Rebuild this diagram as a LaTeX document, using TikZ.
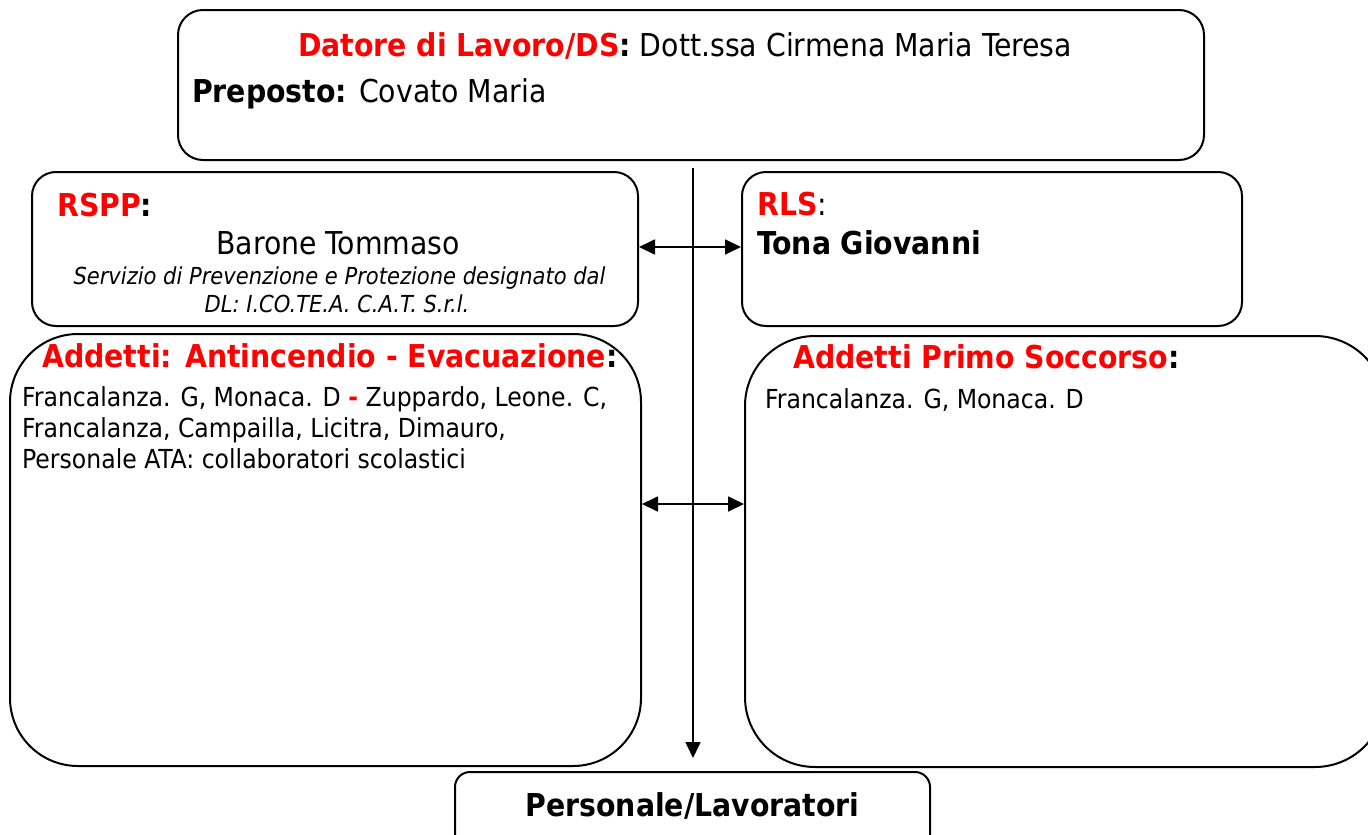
\documentclass[tikz,border=0pt]{standalone}
\usepackage{fontspec}
\setmainfont{DejaVu Sans Condensed}
\usetikzlibrary{arrows.meta}
\definecolor{hdred}{RGB}{255,0,0}
\begin{document}
\begin{tikzpicture}[x=1pt,y=-1pt,
  box/.style={draw, line width=2pt, rounded corners=#1, inner sep=0pt},
  txt/.style={anchor=base west, inner sep=0pt, font=\fontsize{31.5}{38}\selectfont},
  txtc/.style={anchor=base, inner sep=0pt, font=\fontsize{31.5}{38}\selectfont},
  smalltxt/.style={anchor=base west, inner sep=0pt, font=\fontsize{26.2}{31}\selectfont},
  ital/.style={anchor=base, inner sep=0pt, font=\fontsize{23.4}{28}\selectfont\itshape},
  conn/.style={line width=1.8pt, {Triangle[length=16pt,width=15pt]}-{Triangle[length=16pt,width=15pt]}},
  down/.style={line width=1.6pt, -{Triangle[length=16pt,width=15pt]}}]
\useasboundingbox (0,0) rectangle (1368,835);
\clip (0,0) rectangle (1368,835);
% boxes
\node[box=25pt, minimum width=1026pt, minimum height=150pt] (top) at (691,85) {};
\node[box=24pt, minimum width=606pt, minimum height=154pt] (rspp) at (335,249) {};
\node[box=24pt, minimum width=500pt, minimum height=154pt] (rls) at (992,249) {};
\node[box=68pt, minimum width=631pt, minimum height=432pt] (addA) at (325.5,550) {};
\node[box=70pt, minimum width=640pt, minimum height=431pt] (addB) at (1065,551.5) {};
\node[box=15pt, minimum width=475pt, minimum height=80pt] (pers) at (692.5,812) {};
% texts
\node[txt] (tdat) at (298,56) {\textcolor{hdred}{\bfseries Datore di Lavoro/DS}\textbf{:} Dott.ssa Cirmena Maria Teresa};
\node[txt] (tprep) at (192,102) {\textbf{Preposto:} Covato Maria};
\node[txt] (trspp) at (57,216) {\textcolor{hdred}{\bfseries RSPP}\textbf{:}};
\node[txtc] (tbar) at (338,254) {Barone Tommaso};
\node[ital] (tserv) at (339.5,284) {Servizio di Prevenzione e Protezione designato dal};
\node[ital] (tdl) at (337,312) {DL: I.CO.TE.A. C.A.T. S.r.l.};
\node[txt] (trls) at (757,215) {\textcolor{hdred}{\bfseries RLS}:};
\node[txt] (ttona) at (757,254) {\bfseries Tona Giovanni};
\node[txt] (taddA) at (42,367) {\textcolor{hdred}{\bfseries Addetti: Antincendio - Evacuazione}\textbf{:}};
\node[smalltxt] (tl1) at (22,406) {Francalanza. G, Monaca. D \textcolor{hdred}{\bfseries -} Zuppardo, Leone. C,};
\node[smalltxt] (tl2) at (22,437) {Francalanza, Campailla, Licitra, Dimauro,};
\node[smalltxt] (tl3) at (22,468) {Personale ATA: collaboratori scolastici};
\node[txt] (taddB) at (793,368) {\textcolor{hdred}{\bfseries Addetti Primo Soccorso}\textbf{:}};
\node[smalltxt] (tr1) at (765,408) {Francalanza. G, Monaca. D};
\node[txtc] (tpers) at (692.5,816) {\bfseries Personale/Lavoratori};
% connectors
\coordinate (vtop) at (693,168);
\coordinate (vbot) at (693,758);
\coordinate (a1) at (693,247);
\coordinate (a2) at (693,504);
\draw[down] (vtop) -- (vbot);
\draw[conn] (rspp.east |- a1) -- (rls.west |- a1);
\draw[conn] (addA.east |- a2) -- (addB.west |- a2);
\end{tikzpicture}
\end{document}
